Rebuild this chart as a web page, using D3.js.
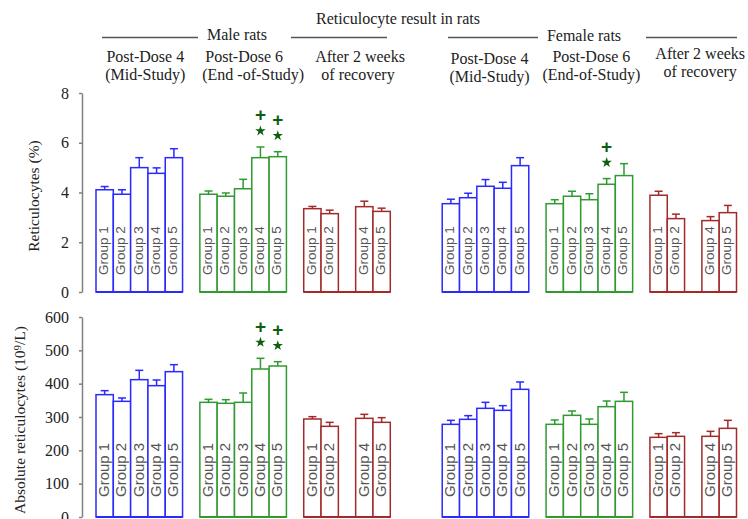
<!DOCTYPE html>
<html>
<head>
<meta charset="utf-8">
<script src="https://cdn.jsdelivr.net/npm/d3@7"></script>
<style>
  body { margin: 0; background: #fff; }
  svg { display: block; }
  text { font-family: "Liberation Serif", "Times New Roman", serif; fill: #222; }
  .group-label { font-family: "Liberation Sans", Arial, sans-serif; fill: #555; }
  .sig { font-family: "Liberation Sans", Arial, sans-serif; fill: #0d5e0d; }
</style>
</head>
<body>
<div id="chart"></div>
<script>
// Study groups and the six clusters (3 time points x 2 sexes)
const groups = ['Group 1', 'Group 2', 'Group 3', 'Group 4', 'Group 5'];
const clusterNames = ['Male PD4', 'Male PD6', 'Male Recovery', 'Female PD4', 'Female PD6', 'Female Recovery'];
const clusterColors = ['#2a2aff', '#2f9a2f', '#a32a2a', '#2a2aff', '#2f9a2f', '#a32a2a'];
const headerLine1 = ['Post-Dose 4', 'Post-Dose 6', 'After 2 weeks', 'Post-Dose 4', 'Post-Dose 6', 'After 2 weeks'];
const headerLine2 = ['(Mid-Study)', '(End -of-Study)', 'of recovery', '(Mid-Study)', '(End-of-Study)', 'of recovery'];

// Reticulocytes (%) - mean and error, null = group not measured
const pctMean = [
  [4.11, 3.93, 5.00, 4.77, 5.40],
  [3.93, 3.85, 4.15, 5.40, 5.44],
  [3.35, 3.15, null, 3.43, 3.24],
  [3.55, 3.79, 4.25, 4.17, 5.08],
  [3.55, 3.85, 3.71, 4.33, 4.68],
  [3.89, 2.95, null, 2.87, 3.19]
];
const pctErr = [
  [0.13, 0.18, 0.40, 0.22, 0.36],
  [0.13, 0.13, 0.38, 0.43, 0.20],
  [0.09, 0.14, null, 0.22, 0.13],
  [0.18, 0.18, 0.27, 0.24, 0.32],
  [0.16, 0.20, 0.24, 0.23, 0.48],
  [0.16, 0.18, null, 0.16, 0.29]
];

// Absolute reticulocytes (10^9/L)
const absMean = [
  [367, 347, 412, 394, 436],
  [344, 341, 344, 444, 453],
  [294, 272, null, 296, 284],
  [278, 293, 326, 320, 383],
  [278, 305, 278, 331, 347],
  [239, 242, null, 242, 266]
];
const absErr = [
  [12, 10, 28, 17, 21],
  [9, 11, 28, 32, 13],
  [7, 12, null, 12, 14],
  [12, 11, 18, 14, 22],
  [13, 13, 16, 17, 27],
  [11, 11, null, 15, 24]
];

// Significance marks: [cluster, group]
const pctSig = [[1, 3], [1, 4], [4, 3]];
const absSig = [[1, 3], [1, 4]];

const pctTicks = [0, 2, 4, 6, 8];
const absTicks = [0, 100, 200, 300, 400, 500, 600];

const width = 748;
const height = 519;

// Each cluster takes 5 slots, 1 slot gap inside a sex, 3 slots between sexes
const clusterSlot = [0, 6, 12, 20, 26, 32];
const x = d3.scaleLinear().domain([0, 37]).range([96, 736.5]);
const slotW = x(1) - x(0);

const svg = d3.select('#chart').append('svg')
  .attr('width', width)
  .attr('height', height);

// ---- headers ----
svg.append('text')
  .attr('x', 398).attr('y', 24)
  .attr('text-anchor', 'middle')
  .style('font-size', '16px')
  .text('Reticulocyte result in rats');

const sexHeaders = [
  { label: 'Male rats', cx: 237, y: 40, lines: [[102, 198], [291, 387]] },
  { label: 'Female rats', cx: 584, y: 41, lines: [[448, 538], [646, 737]] }
];
sexHeaders.forEach(h => {
  svg.append('text')
    .attr('x', h.cx).attr('y', h.y)
    .attr('text-anchor', 'middle')
    .style('font-size', '16px')
    .text(h.label);
  h.lines.forEach(l => {
    svg.append('line')
      .attr('x1', l[0]).attr('x2', l[1])
      .attr('y1', 37.5).attr('y2', 37.5)
      .attr('stroke', '#555').attr('stroke-width', 1.5);
  });
});

// small nudges so the header text sits where the original has it
const headerDx = [[6, 6], [1, 10], [13, 11], [4, 4], [2, 2], [7, 7]];
const headerY = [[62, 80], [62, 80], [62, 80], [64, 82], [62, 80], [59, 77]];
clusterNames.forEach((c, ci) => {
  const cx = x(clusterSlot[ci] + 2.5);
  [headerLine1[ci], headerLine2[ci]].forEach((t, li) => {
    svg.append('text')
      .attr('x', cx + headerDx[ci][li])
      .attr('y', headerY[ci][li])
      .attr('text-anchor', 'middle')
      .style('font-size', '16px')
      .text(t);
  });
});

// ---- panels ----
function drawPanel(opts) {
  const y = d3.scaleLinear().domain(opts.domain).range(opts.range);
  const g = svg.append('g');

  // y axis
  const axis = d3.axisLeft(y)
    .tickValues(opts.ticks)
    .tickSize(3)
    .tickPadding(10)
    .tickSizeOuter(0);
  const ax = g.append('g')
    .attr('transform', 'translate(82,0)')
    .call(axis);
  ax.select('.domain').attr('stroke', '#808080').attr('stroke-width', 1.5);
  ax.selectAll('.tick line').attr('stroke', '#808080').attr('stroke-width', 1.5);
  ax.selectAll('.tick text')
    .style('font-family', '"Liberation Serif", serif')
    .style('font-size', '16px');

  // axis title
  g.append('text')
    .attr('transform', `translate(${opts.titleX},${opts.titleY}) rotate(-90)`)
    .attr('text-anchor', 'middle')
    .attr('dominant-baseline', 'central')
    .style('font-size', '15.5px')
    .text(opts.title);

  clusterNames.forEach((c, ci) => {
    const color = clusterColors[ci];
    const x0 = x(clusterSlot[ci]);

    groups.forEach((grp, gi) => {
      const v = opts.mean[ci][gi];
      if (v === null) return;
      const e = opts.err[ci][gi];
      const bx = x(clusterSlot[ci] + gi);
      const bc = bx + slotW / 2;

      // error bar drawn first so the bar edge covers its foot
      g.append('line')
        .attr('x1', bc).attr('x2', bc)
        .attr('y1', y(v)).attr('y2', y(v + e))
        .attr('stroke', color).attr('stroke-width', 1.5);
      g.append('line')
        .attr('x1', bc - 4).attr('x2', bc + 4)
        .attr('y1', y(v + e)).attr('y2', y(v + e))
        .attr('stroke', color).attr('stroke-width', 1.5);

      g.append('rect')
        .attr('x', bx)
        .attr('y', y(v))
        .attr('width', slotW)
        .attr('height', y(0) - y(v))
        .attr('fill', '#fff')
        .attr('stroke', color)
        .attr('stroke-width', 1.5);

      g.append('text')
        .attr('class', 'group-label')
        .attr('transform', `translate(${bc - 1},${opts.labelY}) rotate(-90)`)
        .attr('dominant-baseline', 'central')
        .style('font-size', opts.labelSize)
        .text(grp);
    });

    // cluster baseline
    g.append('line')
      .attr('x1', x0).attr('x2', x0 + 5 * slotW)
      .attr('y1', y(0)).attr('y2', y(0))
      .attr('stroke', color).attr('stroke-width', 2);
  });

  // significance marks above the error bars
  opts.sig.forEach(s => {
    const ci = s[0], gi = s[1];
    const top = y(opts.mean[ci][gi] + opts.err[ci][gi]);
    const cx = x(clusterSlot[ci] + gi) + slotW / 2;
    g.append('path')
      .attr('d', d3.symbol(d3.symbolStar, 34)())
      .attr('transform', `translate(${cx},${top - 16})`)
      .attr('fill', '#0d5e0d');
    g.append('text')
      .attr('class', 'sig')
      .attr('x', cx).attr('y', top - 32)
      .attr('text-anchor', 'middle')
      .attr('dominant-baseline', 'central')
      .style('font-weight', 'bold')
      .style('font-size', '19px')
      .text('+');
  });
}

drawPanel({
  domain: [0, 8], range: [292, 93], ticks: pctTicks,
  mean: pctMean, err: pctErr, sig: pctSig,
  title: 'Reticulocytes (%)', titleX: 33, titleY: 196,
  labelY: 275, labelSize: '13.5px'
});

drawPanel({
  domain: [0, 600], range: [517, 317], ticks: absTicks,
  mean: absMean, err: absErr, sig: absSig,
  title: 'Absolute reticulocytes (10\u2079/L)', titleX: 19, titleY: 420,
  labelY: 497, labelSize: '15px'
});
</script>
</body>
</html>
